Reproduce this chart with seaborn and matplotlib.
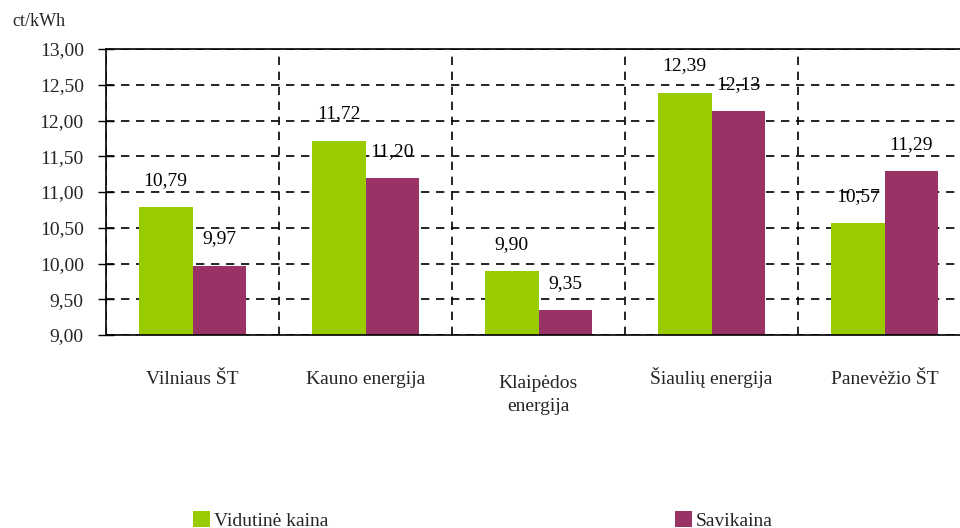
import pandas as pd
import matplotlib.pyplot as plt
import matplotlib.ticker as mticker
import matplotlib.transforms as mtransforms
import seaborn as sns

# duomenys
imones = ['Vilniaus ŠT', 'Kauno energija', 'Klaipėdos\nenergija', 'Šiaulių energija', 'Panevėžio ŠT']
vidutine_kaina = [10.79, 11.72, 9.90, 12.39, 10.57]
savikaina = [9.97, 11.20, 9.35, 12.13, 11.29]
serijos = ['Vidutinė kaina', 'Savikaina']
spalvos = ['#99CC00', '#993366']

df = pd.DataFrame({
    'imone': imones * 2,
    'reiksme': vidutine_kaina + savikaina,
    'serija': [serijos[0]] * len(imones) + [serijos[1]] * len(imones),
})

sns.set_style('white')
plt.rcParams['font.family'] = ['Liberation Serif', 'DejaVu Serif']
plt.rcParams['font.size'] = 14

fig = plt.figure(figsize=(9.6, 5.28), dpi=100)
ax = fig.add_axes([106 / 960, 1 - 335 / 528, 865 / 960, 286 / 528])

sns.barplot(data=df, x='imone', y='reiksme', hue='serija', hue_order=serijos,
            palette=spalvos, width=0.62, linewidth=0, saturation=1, ax=ax)

hl, lb = ax.get_legend_handles_labels()
ax.get_legend().remove()

def kablelis(v):
    return f'{v:.2f}'.replace('.', ',')

for cont in ax.containers:
    ax.bar_label(cont, labels=[kablelis(b.get_height()) for b in cont],
                 padding=13, fontsize=14, color='black')

ax.set_ylim(9, 13)
ax.set_xlim(-0.5, 4.5)
ax.yaxis.set_major_locator(mticker.MultipleLocator(0.5))
ax.yaxis.set_major_formatter(mticker.FuncFormatter(lambda v, p: kablelis(v)))
ax.set_xticks([-0.5, 0.5, 1.5, 2.5, 3.5, 4.5], minor=True)
ax.tick_params(axis='x', which='major', length=0, pad=35, labelsize=14)
ax.tick_params(axis='x', which='minor', length=6, width=1, direction='out', color='black')
ax.tick_params(axis='y', which='major', length=12, width=1, direction='inout',
               color='black', labelsize=14, pad=10, left=True)
ax.set_xlabel('')
ax.set_ylabel('')

# visi pavadinimai ant vienos bazinės linijos, dvieilis nuleidžiamas žemyn
for tick in ax.xaxis.get_major_ticks():
    t = tick.label1
    t.set_verticalalignment('baseline')
    t.set_linespacing(1.4)
    if '\n' in t.get_text():
        t.set_transform(t.get_transform() +
                        mtransforms.ScaledTranslation(0, -27 / 100, fig.dpi_scale_trans))

ax.set_axisbelow(True)
ax.grid(axis='y', which='major', color='black', linestyle=(0, (5, 4)), linewidth=1.2)
ax.grid(axis='x', which='minor', color='black', linestyle=(0, (5, 4)), linewidth=1.2)
ax.grid(axis='x', which='major', visible=False)

for s in ax.spines.values():
    s.set_color('black')
    s.set_linewidth(1.2)

fig.text(12 / 960, 1 - 21 / 528, 'ct/kWh', fontsize=13, va='center', ha='left')

fig.legend(hl, lb, loc='upper left', bbox_to_anchor=(183 / 960, 1 - 501 / 528),
           ncol=2, frameon=False, handlelength=0.9, handleheight=0.9,
           handletextpad=0.2, columnspacing=17.8, borderpad=0, fontsize=14)

fig.savefig('out.png', dpi=100)
